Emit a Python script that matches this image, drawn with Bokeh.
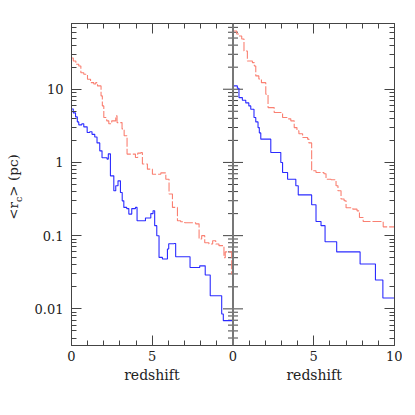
from bokeh.plotting import figure
from bokeh.layouts import row
from bokeh.models import Range1d, LinearAxis, LogAxis, FixedTicker, Span, Div
from bokeh.embed import file_html
from bokeh.resources import INLINE

# ---------------- data ----------------
left_blue_x = [0, 0.11, 0.25, 0.36, 0.45, 0.64, 0.76, 0.97, 1.13, 1.27, 1.44, 1.58, 1.75, 1.89, 2.20,
               2.28, 2.41, 2.62, 2.74, 2.88, 3.03, 3.14, 3.24, 3.42, 3.55, 3.73, 3.96, 4.06, 4.58, 4.91,
               5.05, 5.15, 5.28, 5.42, 5.63, 5.94, 6.02, 6.35, 6.45, 7.34, 7.94, 8.28, 8.59, 9.30, 9.40, 10.0]
left_blue_y = [5.38, 4.76, 4.19, 3.58, 3.26, 3.37, 3.06, 2.56, 2.62, 2.42, 2.23, 1.85, 1.44, 1.16, 1.11,
               1.31, 0.656, 0.41, 0.48, 0.56, 0.388, 0.299, 0.243, 0.234, 0.197, 0.234, 0.243, 0.16, 0.174, 0.20,
               0.219, 0.137, 0.0998, 0.0505, 0.048, 0.0656, 0.0776, 0.078, 0.0516, 0.0368, 0.0387, 0.029, 0.0151,
               0.0085, 0.0069, 0.0069]
left_red_x = [0, 0.11, 0.27, 0.45, 0.58, 0.76, 0.99, 1.18, 1.38, 1.50, 1.61, 1.83, 1.91, 2.0, 2.18,
              2.31, 2.49, 2.74, 2.82, 3.13, 3.26, 3.44, 3.96, 4.10, 4.29, 4.39, 4.70, 5.01, 5.53, 5.84,
              6.04, 6.25, 6.56, 6.76, 7.01, 7.69, 7.90, 8.06, 8.25, 8.51, 8.74, 8.93, 9.13, 9.44, 9.52,
              9.92, 10.0]
left_red_y = [26.7, 24.3, 21.9, 20.8, 16.8, 16.0, 13.7, 12.3, 11.8, 12.3, 11.1, 8.1, 5.92, 4.1, 3.7,
              3.37, 3.7, 4.33, 3.5, 2.87, 2.31, 1.30, 1.17, 1.34, 1.36, 0.95, 0.81, 0.69, 0.72, 0.59,
              0.37, 0.243, 0.16, 0.155, 0.15, 0.145, 0.09, 0.1, 0.080, 0.077, 0.085, 0.077, 0.073, 0.05, 0.060,
              0.030, 0.030]
right_blue_x = [0, 0.27, 0.37, 0.58, 0.79, 0.98, 1.10, 1.30, 1.41, 1.55, 1.63, 1.72, 2.34, 2.96, 3.07,
                3.38, 3.89, 4.04, 4.87, 5.14, 5.45, 5.70, 6.42, 7.87, 8.82, 9.28, 10.0]
right_blue_y = [11.1, 10.3, 7.68, 7.08, 6.5, 5.92, 5.33, 4.1, 3.58, 2.99, 2.53, 2.08, 1.37, 1.0, 0.73,
                0.59, 0.48, 0.36, 0.264, 0.156, 0.137, 0.0826, 0.060, 0.041, 0.0248, 0.0141, 0.0141]
right_red_x = [0, 0.23, 0.37, 0.54, 0.68, 0.89, 1.2, 1.32, 1.41, 1.6, 1.76, 2.03, 2.17, 2.55, 3.07,
               3.34, 3.58, 3.79, 3.96, 4.08, 4.31, 4.62, 4.7, 4.87, 5.14, 5.63, 5.76, 6.07, 6.38, 6.5,
               6.69, 6.88, 7.0, 7.42, 7.68, 7.83, 8.06, 9.30, 10.0]
right_red_y = [62.4, 56.7, 53.3, 48.5, 33.3, 24.3, 23.1, 20.8, 15.2, 13.8, 12.3, 8.55, 5.61, 4.8, 4.1,
               3.94, 3.7, 2.99, 2.70, 2.46, 2.19, 2.08, 1.85, 0.77, 0.73, 0.70, 0.59, 0.58, 0.48, 0.41,
               0.316, 0.30, 0.24, 0.23, 0.218, 0.177, 0.156, 0.132, 0.132]

x_major = [0, 5, 10, 15, 20]
x_labels = {0: "0", 5: "5", 10: "0", 15: "5", 20: "10"}
y_major = [0.01, 0.1, 1, 10]
y_labels = {0.01: "0.01", 0.1: "0.1", 1: "1", 10: "10"}
y_min, y_max = 0.00316, 79.0
panel_split = 10
x_title = "redshift"

FONT = "DejaVu Serif"
AX = "#444444"
BLUE = "#2b2bff"
RED = "#fa8072"

x_minor = [i for i in range(0, 21) if i % 5]
y_minor = [m * 10.0 ** e for e in range(-3, 2) for m in range(2, 10)
           if y_min <= m * 10.0 ** e <= y_max]

p = figure(frame_width=323, frame_height=322,
           x_range=Range1d(0, 20), y_range=Range1d(y_min, y_max),
           y_axis_type="log", output_backend="svg", toolbar_location=None,
           min_border_left=43, min_border_right=8, min_border_top=23, min_border_bottom=48)
p.extra_x_ranges = {"right": Range1d(-10, 10)}
p.grid.visible = False
p.outline_line_color = AX

xt = FixedTicker(ticks=x_major, minor_ticks=x_minor)
yt = FixedTicker(ticks=y_major, minor_ticks=y_minor)


def style(ax, ticks, labels=None):
    ax.axis_line_color = AX
    ax.major_tick_line_color = AX
    ax.minor_tick_line_color = AX
    ax.major_tick_in = 10
    ax.major_tick_out = 0
    ax.minor_tick_in = 5
    ax.minor_tick_out = 0
    ax.major_label_text_font = FONT
    ax.major_label_text_font_size = "13px"
    ax.major_label_text_color = "#222222"
    if labels is None:
        ax.major_label_overrides = {t: "" for t in ticks}
        ax.major_label_standoff = 0
    else:
        ax.major_label_overrides = labels


xb = p.xaxis[0]
xb.ticker = xt
style(xb, x_major, x_labels)
xb.major_label_standoff = 5
# one axis title per panel: the two words are spaced so each sits under its panel
xb.axis_label = x_title + "\u00a0" * 24 + x_title
xb.axis_label_text_font = FONT
xb.axis_label_text_font_size = "14px"
xb.axis_label_text_font_style = "normal"
xb.axis_label_text_color = "#222222"
xb.axis_label_standoff = 3

yl = p.yaxis[0]
yl.ticker = yt
style(yl, y_major, y_labels)
yl.major_label_standoff = 8

xa = LinearAxis(ticker=xt)
style(xa, x_major)
p.add_layout(xa, "above")

yr = LogAxis(ticker=yt)
style(yr, y_major)
p.add_layout(yr, "right")

# divider between the two panels, with ticks on both sides
p.add_layout(Span(location=panel_split, dimension="height", line_color="#777777", line_width=2))
for ticks, ln in ((y_major, 10), (y_minor, 5)):
    for ang in (0.0, 3.14159265):
        p.ray(x=[panel_split] * len(ticks), y=ticks, length=ln, length_units="screen",
              angle=ang, line_color=AX, line_width=1)

# ---------------- data lines ----------------
p.step(left_red_x, left_red_y, mode="after", line_color=RED, line_width=1.1, line_dash="9 2")
p.step(left_blue_x, left_blue_y, mode="after", line_color=BLUE, line_width=1.1)
p.step(right_red_x, right_red_y, mode="after", line_color=RED, line_width=1.1, line_dash="9 2",
       x_range_name="right")
p.step(right_blue_x, right_blue_y, mode="after", line_color=BLUE, line_width=1.1, x_range_name="right")

# ---------------- y-axis title (with subscript) ----------------
ylab = Div(width=28, height=393, margin=0,
           text=('<span style="position:absolute; left:15px; top:187px; '
                 'transform:translate(-50%,-50%) rotate(-90deg); white-space:nowrap; '
                 "font-family:'DejaVu Serif'; font-size:13.5px; color:#222222; line-height:1;\">"
                 '&lt;r<sub style="font-size:9.5px">c</sub>&gt; (pc)</span>'),
           styles={"position": "relative"})

layout = row(ylab, p)
open("out.html", "w").write(file_html(layout, INLINE))
